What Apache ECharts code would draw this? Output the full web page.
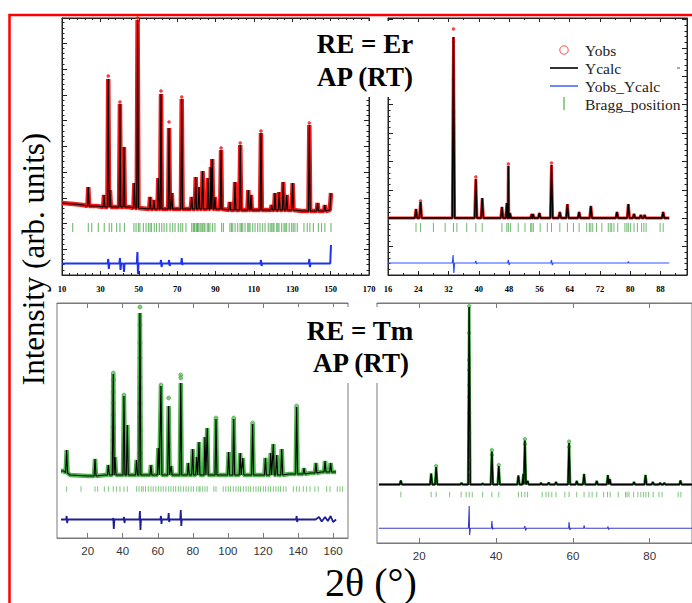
<!DOCTYPE html>
<html><head><meta charset="utf-8">
<script src="https://cdn.jsdelivr.net/npm/echarts@6/dist/echarts.min.js"></script>
<style>html,body{margin:0;padding:0;background:#fff;}#chart{width:692px;height:603px;}</style>
</head><body><div id="chart"></div>
<script>
// ---------- RE = Er, full range (top-left) ----------
const erFullBg = [[10,72],[16,71],[21,70],[28,69],[45,68],[70,66],[100,65],[135,64],[149.6,65],[150.2,82]];
const erFullPeaks = [[23.7,88,69],[31.9,80,68],[34.1,196,68],[35.0,85,68],[40.2,171,68],[42.3,128,68],[47.7,92,67],[49.4,255,67],[55.9,78,66],[57.9,75,66],[60.2,97,66],[61.6,181,66],[65.8,147,66],[67.2,82,66],[72.4,176,66],[77.6,78,66],[79.7,98,66],[81.4,88,66],[83.3,104,66],[86.1,97,66],[87.6,108,66],[88.3,116,66],[89.7,78,66],[92.9,125,66],[97.5,73,65],[100.2,93,65],[102.9,130,65],[107.1,85,65],[108.5,80,65],[113.7,142,65],[119.3,70,65],[121.0,82,65],[123.2,83,65],[125.3,93,65],[127.1,80,65],[130.2,92,65],[138.9,150,64],[143.2,72,64],[147.0,70,64]];
const erFullObsTops = [[49.4,257],[34.1,199],[40.2,173],[61.6,184],[65.8,153],[72.4,178],[92.9,127],[102.9,132],[113.7,144],[138.9,152]];
const erFullBragg = [15.6,23.7,25.5,28.9,32.0,34.6,35.9,38.5,40.2,42.5,47.5,48.6,49.8,50.6,52.4,53.8,55.0,55.9,56.7,58.1,59.3,60.7,62.0,63.2,64.6,66.3,67.7,68.9,70.6,71.9,72.9,74.6,77.6,78.4,78.9,79.3,80.2,80.6,81.0,81.9,82.5,83.3,84.0,84.5,85.7,86.4,87.1,88.5,89.7,93.2,94.1,97.5,98.3,99.0,100.2,101.6,102.8,103.5,104.2,105.4,106.8,107.4,108.0,109.4,110.6,112.0,113.2,114.6,115.8,117.5,118.5,119.3,120.0,120.5,121.9,122.5,123.1,124.5,125.7,126.3,127.1,128.4,129.7,130.5,131.4,132.6,136.1,137.8,139.2,141.0,143.6,145.3,147.0,150.2];
const erFullDiff = [[10,11.5],[33.8,11.5],[34.1,16],[34.4,6],[34.7,11.5],[39.9,11.5],[40.2,17],[40.5,5],[40.8,11.5],[42.0,11.5],[42.3,3],[42.6,11.5],[49.0,11.5],[49.3,23],[49.6,1],[49.9,11.5],[61.3,11.5],[61.6,15],[61.9,8],[62.2,11.5],[65.5,11.5],[65.8,15],[66.1,9],[66.4,11.5],[72.1,11.5],[72.4,17],[72.7,10],[73.0,11.5],[113.4,11.5],[113.7,15],[114.0,9],[114.3,11.5],[138.6,11.5],[138.9,16],[139.2,8],[139.5,11.5],[149.8,11.5],[150.2,30]];

// ---------- RE = Er, low angle (top-right) ----------
const erZoomBg = [[16,57],[90.3,57]];
const erZoomPeaks = [[23.4,66,57],[24.6,73,57],[33.3,238,57],[39.2,96,57],[40.9,77,57],[46.1,68,57],[47.4,72,57],[47.8,109,57],[48.2,62,57],[54.0,61,57],[54.3,61,57],[56.0,62,57],[59.2,110,57],[61.4,63,57],[63.4,71,57],[66.5,63,57],[69.6,69,57],[76.5,63,57],[79.5,71,57],[81.0,61,57],[82.8,60,57],[83.8,60,57],[88.7,63,57]];
const erZoomObsTops = [[33.3,246],[33.3,233],[33.3,195],[33.3,163],[33.3,147],[33.3,117],[33.3,93],[33.3,77],[39.2,98],[47.8,111],[59.2,112],[24.6,74]];
const erZoomBragg = [23.4,24.6,28.0,31.1,33.3,34.2,36.8,39.2,40.9,46.1,47.4,47.8,48.4,50.4,52.2,53.7,54.0,54.4,56.2,58.1,59.2,61.4,63.4,65.0,66.5,68.5,69.2,69.6,70.1,71.1,72.5,74.2,74.7,75.1,75.7,76.7,78.6,79.1,79.5,80.1,81.0,81.9,83.0,83.6,84.2,87.9,88.7];
const erZoomDiff = [[16,12],[33.0,12],[33.2,20],[33.4,2],[33.6,12],[39.0,12],[39.2,14],[39.4,11],[39.6,12],[47.6,12],[47.8,15],[48.0,10],[48.2,12],[59.0,12],[59.2,15],[59.4,10],[59.6,12],[79.4,12],[79.5,13.5],[79.7,12],[90.3,12]];

// ---------- RE = Tm, full range (bottom-left) ----------
const tmFullBg = [[4.8,67],[6.5,67],[10,63],[20,62],[30,63],[60,63],[100,63],[135,64],[147,65],[153,66],[161.7,66]];
const tmFullPeaks = [[8.0,88,65],[24.2,79,62],[31.8,73,63],[34.6,164,63],[35.6,81,63],[40.7,142,63],[42.6,113,63],[47.9,78,63],[49.8,225,63],[56.1,73,63],[60.3,90,63],[61.8,152,63],[66.2,132,63],[67.6,72,63],[73.1,155,63],[77.4,75,63],[79.9,89,63],[82.2,81,63],[83.5,96,63],[86.9,101,63],[88.2,110,63],[93.2,119,63],[100.4,86,63],[103.3,119,63],[107.0,85,63],[108.5,80,63],[114.1,114,63],[121.4,80,63],[124.4,85,63],[125.9,94,63],[127.8,83,63],[130.7,89,63],[139.2,131,64],[143.4,70,64],[150.2,75,65],[155.4,77,66],[158.6,75,66]];
const tmFullObs = [[49.8,231],[49.8,213],[49.8,195],[49.8,180],[49.8,161],[49.8,150],[49.8,135],[49.8,121],[49.8,108],[49.8,96],[49.8,85],[34.6,165],[34.6,158],[34.6,146],[34.6,135],[34.6,123],[34.6,111],[34.6,98],[34.6,85],[66.2,140],[73.1,163],[73.1,160],[61.8,153],[40.7,143],[139.2,132],[93.2,120],[103.3,120],[114.1,115]];
const tmFullBragg = [8.0,16.2,24.2,25.7,29.5,31.8,34.6,36.5,38.4,40.7,42.6,47.9,49.3,50.8,51.7,53.0,54.6,56.1,57.4,58.9,60.3,61.8,63.1,64.6,66.2,67.5,68.9,70.2,71.7,73.1,74.6,76.1,77.4,79.0,80.3,82.2,83.5,84.1,85.6,86.9,88.2,92.0,93.2,97.3,98.8,100.2,101.5,103.1,104.6,105.9,107.2,108.8,110.3,111.6,112.9,114.5,116.0,117.3,118.6,120.2,121.5,123.0,124.3,125.9,127.4,128.7,130.0,131.6,133.1,137.3,139.2,140.7,143.0,144.9,146.8,149.6,151.5,156.3,158.2,162.4,163.9,165.4];
const tmFullDiff = [[4.8,18.5],[7.7,18.5],[8.0,22],[8.3,15],[8.6,18.5],[34.3,18.5],[34.6,20],[34.9,9],[35.2,18.5],[40.4,18.5],[40.7,21],[41.0,15],[41.3,18.5],[49.5,18.5],[49.8,27],[50.1,8],[50.4,18.5],[61.5,18.5],[61.8,22],[62.1,14],[62.4,18.5],[65.9,18.5],[66.2,25],[66.5,16],[66.8,18.5],[72.8,18.5],[73.1,28],[73.4,12],[73.7,18.5],[138.9,18.5],[139.2,22],[139.5,16],[139.8,18.5],[150,18.5],[152,21],[153.5,16.5],[155.4,21],[157,17],[158.6,22],[160,16],[161.7,18.5]];
const tmFullTicks = [20,40,60,80,100,120,140,160];

// ---------- RE = Tm, low angle (bottom-right) ----------
const tmZoomBg = [[9.5,58.5],[91,58.5]];
const tmZoomPeaks = [[15.2,62.5,58.5],[23.1,69.5,58.5],[24.4,76,58.5],[31.0,60,58.5],[33.0,236,58.5],[36.5,59.5,58.5],[38.9,91.5,58.5],[40.7,77,58.5],[45.8,67.5,58.5],[47.1,69,58.5],[47.5,102.5,58.5],[48.2,62,58.5],[51.7,60,58.5],[53.7,60.5,58.5],[55.6,61,58.5],[59.0,100,58.5],[61.0,62,58.5],[62.9,69,58.5],[66.2,62,58.5],[69.1,68,58.5],[69.6,64,58.5],[75.9,61,58.5],[78.9,68,58.5],[80.8,61,58.5],[82.7,60,58.5],[83.8,60,58.5],[88.0,62.5,58.5]];
const tmZoomObs = [[33.0,237],[33.0,210],[33.0,183],[33.0,173],[33.0,158],[33.0,146],[33.0,130],[33.0,110],[33.0,83],[33.0,71],[38.9,93],[38.9,88],[47.5,104],[47.5,99],[59.0,101.5],[59.0,96],[24.4,77],[40.7,78]];
const tmZoomBragg = [15.2,23.1,24.4,27.9,30.9,32.2,33.0,33.8,36.5,38.9,40.7,45.8,46.6,47.5,48.2,52.0,53.0,53.7,54.5,55.6,57.9,59.0,61.0,62.9,64.2,65.0,66.2,68.0,69.0,69.7,71.8,73.7,74.1,74.6,75.8,76.9,77.7,78.4,79.0,79.7,80.9,82.4,83.2,87.4,88.1];
const tmZoomDiff = [[9.5,14.7],[32.8,14.7],[33.0,37],[33.1,8],[33.3,14.7],[38.8,14.7],[38.9,22],[39.1,13.5],[39.3,14.7],[47.3,14.7],[47.5,17],[47.7,12.5],[47.9,14.7],[58.9,14.7],[59.0,21],[59.2,13],[59.4,14.7],[62.8,14.7],[62.9,17.5],[63.1,14.7],[69.0,14.7],[69.1,16.5],[69.3,13.5],[69.5,14.7],[91,14.7]];
const tmZoomTicks = [20,40,60,80];

const legendNames = ['Yobs','Ycalc','Yobs_Ycalc','Bragg_position'];

// ---------- build ----------
function profile(bg, peaks, hw) {
  const pts = bg.map(p => p.slice());
  peaks.forEach(([x, top, base]) => { pts.push([x - hw, base], [x, top], [x + hw, base]); });
  return pts.sort((a, b) => a[0] - b[0]);
}

const SERIF = 'Liberation Serif';
const SANS = 'Liberation Sans';

function panel(ax, cfg) {
  const prof = profile(cfg.bg, cfg.peaks, cfg.hw);
  return [
    { name: legendNames[0], type: 'line', xAxisIndex: ax, yAxisIndex: ax, data: prof, showSymbol: false, symbol: 'none',
      lineStyle: { color: cfg.obsColor, width: cfg.obsWidth, opacity: cfg.obsOpacity || 1 }, z: 2, silent: true },
    { name: legendNames[0], type: 'scatter', xAxisIndex: ax, yAxisIndex: ax, data: cfg.obs, symbol: 'circle', symbolSize: cfg.obsSize,
      itemStyle: { color: cfg.obsDot, borderColor: cfg.obsBorder, borderWidth: 0.6 }, z: 3, silent: true },
    { name: legendNames[1], type: 'line', xAxisIndex: ax, yAxisIndex: ax, data: prof, showSymbol: false, symbol: 'none',
      lineStyle: { color: '#000', width: cfg.calcWidth }, z: 4, silent: true },
    { name: legendNames[3], type: 'scatter', xAxisIndex: ax, yAxisIndex: ax, data: cfg.bragg.map(x => [x, cfg.braggLevel]),
      symbol: 'rect', symbolSize: [1, cfg.braggH], itemStyle: { color: cfg.braggColor }, z: 3, silent: true },
    { name: legendNames[2], type: 'line', xAxisIndex: ax, yAxisIndex: ax, data: cfg.diff, showSymbol: false, symbol: 'none',
      lineStyle: { color: cfg.diffColor, width: cfg.diffWidth }, z: 3, silent: true }
  ];
}

function xAx(gi, min, max, pos, o) {
  const a = { gridIndex: gi, type: 'value', min: min, max: max, position: pos,
    axisLine: { show: true, onZero: false, lineStyle: { color: o.lineColor, width: 1 } },
    axisTick: { show: true, inside: true, length: o.tickLen, lineStyle: { color: o.lineColor } },
    splitLine: { show: false },
    axisLabel: { show: pos === 'bottom', fontFamily: o.font, fontWeight: o.weight, fontSize: o.size, color: o.labelColor, margin: o.margin,
      showMaxLabel: o.hideMax ? false : null }
  };
  if (o.interval) a.interval = o.interval;
  if (o.minor) a.minorTick = { show: true, splitNumber: o.minor, length: 2, lineStyle: { color: o.lineColor } };
  if (o.custom) { a.axisTick.customValues = o.custom; a.axisLabel.customValues = o.custom; }
  return a;
}
function yAx(gi, max, pos, o) {
  if (!o) return { gridIndex: gi, type: 'value', min: 0, max: max, show: false };
  return { gridIndex: gi, type: 'value', min: 0, max: max, position: pos, interval: o.interval,
    axisLine: { show: true, onZero: false, lineStyle: { color: '#222' } },
    axisTick: { show: true, inside: true, length: 5, lineStyle: { color: '#222' } },
    minorTick: { show: true, splitNumber: 5, length: 2.5, lineStyle: { color: '#222' } },
    splitLine: { show: false }, axisLabel: { show: false } };
}

const topStyle = { lineColor: '#222', tickLen: 4, font: SERIF, weight: 'bold', size: 8.5, labelColor: '#000', margin: 9 };
const botStyle = { lineColor: '#7a7a7a', tickLen: 5, font: SANS, weight: 'normal', size: 11.5, labelColor: '#333', margin: 7 };

const grids = [
  { left: 62, top: 18, width: 307, height: 257, show: true, borderColor: '#222', borderWidth: 1 },
  { left: 388, top: 18, width: 299, height: 257, show: true, borderColor: '#222', borderWidth: 1 },
  { left: 57, top: 303, width: 291, height: 235, show: true, borderColor: '#7a7a7a', borderWidth: 1 },
  { left: 377, top: 303, width: 324, height: 240, show: true, borderColor: '#7a7a7a', borderWidth: 1 }
];

const xAxes = [
  xAx(0, 10, 170, 'bottom', Object.assign({ interval: 20, minor: 5 }, topStyle)),
  xAx(1, 16, 95, 'bottom', Object.assign({ interval: 8, minor: 2, hideMax: true }, topStyle)),
  xAx(2, 2.5, 168.5, 'bottom', Object.assign({ custom: tmFullTicks }, botStyle)),
  xAx(3, 9, 91, 'bottom', Object.assign({ custom: tmZoomTicks }, botStyle)),
  xAx(0, 10, 170, 'top', Object.assign({ interval: 20, minor: 5 }, topStyle)),
  xAx(1, 16, 95, 'top', Object.assign({ interval: 8, minor: 2 }, topStyle)),
  xAx(2, 2.5, 168.5, 'top', Object.assign({ custom: tmFullTicks }, botStyle)),
  xAx(3, 9, 91, 'top', Object.assign({ custom: tmZoomTicks }, botStyle))
];
const yAxes = [
  yAx(0, 257, 'left', { interval: 25.75 }),
  yAx(1, 257, 'left', { interval: 28.4 }),
  yAx(2, 235),
  yAx(3, 240),
  yAx(0, 257, 'right', { interval: 25.75 }),
  yAx(1, 257, 'right', { interval: 28.4 })
];

const series = [].concat(
  panel(0, { bg: erFullBg, peaks: erFullPeaks, hw: 0.45, obs: erFullObsTops, bragg: erFullBragg, diff: erFullDiff,
    obsColor: '#ee1a1a', obsWidth: 4.5, obsDot: '#ee1a1a', obsBorder: '#ee1a1a', obsSize: 3, calcWidth: 1.1,
    braggLevel: 47.5, braggH: 9, braggColor: '#3f9f3f', diffColor: '#1f33ee', diffWidth: 2 }),
  panel(1, { bg: erZoomBg, peaks: erZoomPeaks, hw: 0.3, obs: erZoomObsTops, bragg: erZoomBragg, diff: erZoomDiff,
    obsColor: '#e62020', obsWidth: 3, obsDot: '#ee2020', obsBorder: '#ee2020', obsSize: 3, calcWidth: 1.4,
    braggLevel: 47.5, braggH: 9, braggColor: '#4fa64f', diffColor: '#3050ff', diffWidth: 1.2 }),
  panel(2, { bg: tmFullBg, peaks: tmFullPeaks, hw: 0.55, obs: tmFullObs, bragg: tmFullBragg, diff: tmFullDiff,
    obsColor: '#3aab3a', obsWidth: 4.5, obsOpacity: 0.9, obsDot: '#5cc05c', obsBorder: '#2a8a2a', obsSize: 4, calcWidth: 1.1,
    braggLevel: 49, braggH: 5.5, braggColor: '#5cb85c', diffColor: '#1e1e96', diffWidth: 1.8 }),
  panel(3, { bg: tmZoomBg, peaks: tmZoomPeaks, hw: 0.28, obs: tmZoomObs, bragg: tmZoomBragg, diff: tmZoomDiff,
    obsColor: '#2a9a2a', obsWidth: 2.6, obsDot: '#5cc05c', obsBorder: '#2a8a2a', obsSize: 3.5, calcWidth: 1.3,
    braggLevel: 48.5, braggH: 5.5, braggColor: '#5cb85c', diffColor: '#3a3acc', diffWidth: 1.1 })
);

function txt(x, y, text, font, extra) {
  return Object.assign({ type: 'text', x: x, y: y, z: 101,
    style: { text: text, font: font, fill: '#000', textAlign: 'center', textVerticalAlign: 'middle', align: 'center', verticalAlign: 'middle' } }, extra || {});
}
function ltxt(x, y, text) {
  return { type: 'text', x: x, y: y, z: 101,
    style: { text: text, font: '15.5px "' + SERIF + '"', fill: '#222', textAlign: 'left', textVerticalAlign: 'middle', align: 'left', verticalAlign: 'middle' } };
}

const graphic = [
  { type: 'rect', shape: { x: 298, y: 21, width: 118, height: 76 }, style: { fill: '#fff' }, z: 100 },
  { type: 'rect', shape: { x: 298, y: 307, width: 118, height: 76 }, style: { fill: '#fff' }, z: 100 },
  txt(365, 44, 'RE = Er', 'bold 27px "' + SERIF + '"'),
  txt(365, 77, 'AP (RT)', 'bold 27px "' + SERIF + '"'),
  txt(360, 331, 'RE = Tm', 'bold 27px "' + SERIF + '"'),
  txt(361, 363, 'AP (RT)', 'bold 27px "' + SERIF + '"'),
  txt(33, 259, 'Intensity (arb. units)', '31px "' + SERIF + '"', { rotation: Math.PI / 2 }),
  txt(371, 582, '2\u03b8 (\u00b0)', '40px "' + SERIF + '"'),
  // legend
  { type: 'circle', shape: { cx: 564, cy: 50, r: 4.2 }, style: { fill: 'none', stroke: '#ff4d4d', lineWidth: 1 }, z: 101 },
  { type: 'line', shape: { x1: 550, y1: 68, x2: 578, y2: 68 }, style: { stroke: '#333', lineWidth: 2 }, z: 101 },
  { type: 'line', shape: { x1: 550, y1: 86, x2: 578, y2: 86 }, style: { stroke: '#3355ff', lineWidth: 1.4 }, z: 101 },
  { type: 'line', shape: { x1: 564, y1: 97, x2: 564, y2: 110 }, style: { stroke: '#4caf4c', lineWidth: 1.2 }, z: 101 },
  { type: 'line', shape: { x1: 677, y1: 68, x2: 680, y2: 68 }, style: { stroke: '#555', lineWidth: 1 }, z: 101 },
  ltxt(585, 50, legendNames[0]),
  ltxt(585, 68, legendNames[1]),
  ltxt(585, 86, legendNames[2]),
  ltxt(585, 104, legendNames[3]),
  // red frame
  { type: 'rect', shape: { x: 9.5, y: 15, width: 900, height: 900 }, style: { fill: 'none', stroke: '#ff0000', lineWidth: 2.5 }, z: 102 }
];

const chart = echarts.init(document.getElementById('chart'), null, { renderer: 'svg', width: 692, height: 603 });
chart.setOption({
  animation: false,
  backgroundColor: '#fff',
  grid: grids,
  xAxis: xAxes,
  yAxis: yAxes,
  series: series,
  graphic: graphic
});
</script></body></html>
